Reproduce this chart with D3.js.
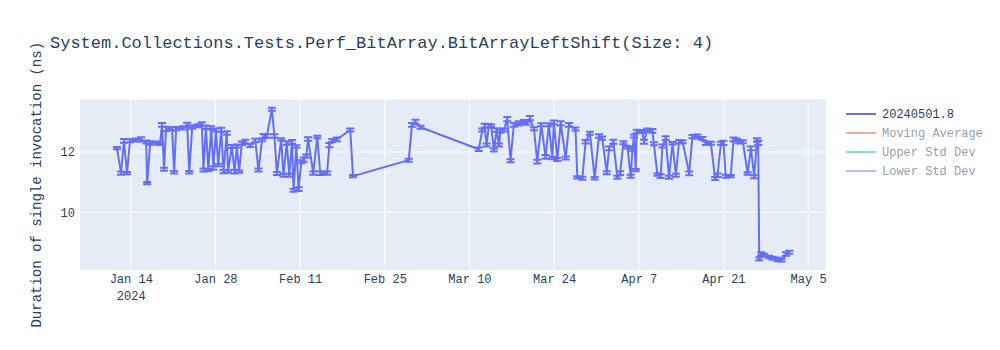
<!DOCTYPE html>
<html>
<head>
<meta charset="utf-8">
<script src="https://cdn.jsdelivr.net/npm/d3@7"></script>
<style>
  body { margin: 0; background: #fff; }
  #chart text { font-family: "Courier New", "Liberation Mono", monospace; fill: #2a3f5f; }
</style>
</head>
<body>
<div id="chart"></div>
<script>
var chartTitle = 'System.Collections.Tests.Perf_BitArray.BitArrayLeftShift(Size: 4)';
var yTitle = 'Duration of single invocation (ns)';

var runDates = [
  '2024-01-11 17:00','2024-01-12 09:30','2024-01-12 21:00','2024-01-13 09:00','2024-01-13 21:00','2024-01-14 21:00',
  '2024-01-15 17:00','2024-01-16 13:00','2024-01-16 17:00','2024-01-17 05:00','2024-01-18 05:00','2024-01-18 20:00',
  '2024-01-19 04:00','2024-01-19 12:00','2024-01-19 20:00','2024-01-20 20:00','2024-01-21 04:00','2024-01-21 12:00',
  '2024-01-22 16:00','2024-01-23 08:00','2024-01-23 16:00','2024-01-24 04:00','2024-01-25 03:00','2024-01-25 18:00',
  '2024-01-26 00:30','2024-01-26 10:00','2024-01-26 20:00','2024-01-27 07:00','2024-01-27 16:00','2024-01-28 02:00',
  '2024-01-28 11:00','2024-01-28 23:00','2024-01-29 08:00','2024-01-29 21:00','2024-01-30 02:00','2024-01-30 17:00',
  '2024-01-31 04:00','2024-01-31 13:00','2024-01-31 22:00','2024-02-01 09:00','2024-02-01 22:00','2024-02-02 18:00',
  '2024-02-03 14:00','2024-02-04 03:00','2024-02-04 17:00','2024-02-04 23:00','2024-02-05 12:00','2024-02-06 08:00',
  '2024-02-06 18:00','2024-02-07 04:00','2024-02-07 21:00','2024-02-08 06:00','2024-02-08 19:00','2024-02-09 05:00',
  '2024-02-09 16:00','2024-02-09 22:00','2024-02-10 09:00','2024-02-10 18:00','2024-02-11 05:00','2024-02-11 14:00',
  '2024-02-12 00:30','2024-02-12 08:00','2024-02-13 04:00','2024-02-13 20:00','2024-02-14 08:00','2024-02-15 11:00',
  '2024-02-15 20:00','2024-02-16 07:00','2024-02-17 02:00','2024-02-19 07:00','2024-02-19 18:00','2024-02-28 23:00',
  '2024-02-29 12:00','2024-03-01 02:00','2024-03-01 22:00','2024-03-11 13:00','2024-03-12 03:00','2024-03-12 12:00',
  '2024-03-12 20:00','2024-03-13 05:00','2024-03-13 14:00','2024-03-14 01:00','2024-03-14 12:00','2024-03-14 21:00',
  '2024-03-15 03:00','2024-03-15 17:00','2024-03-16 06:00','2024-03-16 19:00','2024-03-17 08:00','2024-03-18 04:00',
  '2024-03-19 00:00','2024-03-19 11:00','2024-03-20 00:00','2024-03-20 16:00','2024-03-21 05:00','2024-03-21 21:00',
  '2024-03-22 14:00','2024-03-23 03:00','2024-03-23 17:00','2024-03-23 23:00','2024-03-24 13:00','2024-03-25 02:00',
  '2024-03-25 22:00','2024-03-26 11:00','2024-03-27 13:00','2024-03-27 20:00','2024-03-28 16:00','2024-03-29 05:00',
  '2024-03-29 22:00','2024-03-30 17:00','2024-03-31 10:00','2024-03-31 23:00','2024-04-01 17:00','2024-04-02 02:00',
  '2024-04-02 19:00','2024-04-03 11:00','2024-04-03 22:00','2024-04-04 11:00','2024-04-05 03:00','2024-04-05 16:00',
  '2024-04-05 23:00','2024-04-06 05:00','2024-04-06 12:00','2024-04-06 16:00','2024-04-07 14:00','2024-04-07 21:00',
  '2024-04-08 10:00','2024-04-09 06:00','2024-04-09 12:00','2024-04-10 02:00','2024-04-10 15:00','2024-04-10 22:00',
  '2024-04-11 11:00','2024-04-12 00:00','2024-04-12 14:00','2024-04-13 03:00','2024-04-13 16:00','2024-04-14 06:00',
  '2024-04-15 08:00','2024-04-15 21:00','2024-04-16 17:00','2024-04-17 13:00','2024-04-18 02:00','2024-04-18 22:00',
  '2024-04-19 15:00','2024-04-20 00:30','2024-04-20 14:00','2024-04-21 00:00','2024-04-21 09:00','2024-04-22 05:00',
  '2024-04-22 16:00','2024-04-23 05:00','2024-04-23 14:00','2024-04-24 05:00','2024-04-25 00:00','2024-04-25 13:00',
  '2024-04-26 02:00','2024-04-26 13:00','2024-04-26 18:00','2024-04-26 22:00','2024-04-27 05:00','2024-04-27 18:00',
  '2024-04-28 13:00','2024-04-29 03:00','2024-04-29 23:00','2024-04-30 15:00','2024-05-01 08:00','2024-05-01 21:00'
];

var durations = [
  12.13, 11.30, 12.37, 11.30, 12.37, 12.40, 12.42, 12.33, 10.97, 12.30, 12.30, 12.27,
  12.90, 11.43, 12.77, 12.77, 11.33, 12.77, 12.80, 12.90, 11.33, 12.83, 12.87, 12.93,
  11.40, 12.82, 11.40, 12.80, 11.47, 12.73, 11.57, 12.73, 11.35, 12.63, 11.35, 12.18,
  11.35, 12.20, 11.35, 12.29, 12.34, 12.22, 12.38, 11.40, 12.40, 12.53, 12.53, 13.42,
  12.53, 11.29, 12.42, 11.23, 12.30, 11.23, 12.34, 10.73, 12.18, 10.77, 11.68, 11.75,
  11.87, 12.43, 11.30, 12.50, 11.30, 11.30, 12.23, 12.38, 12.42, 12.73, 11.20, 11.73,
  12.90, 13.00, 12.82, 12.09, 12.73, 12.87, 12.23, 12.87, 12.87, 12.07, 12.73, 12.23,
  12.70, 12.73, 13.09, 11.71, 12.90, 12.95, 13.00, 12.95, 13.12, 12.77, 11.68, 12.90,
  11.84, 12.90, 11.80, 12.98, 11.75, 12.95, 11.80, 12.90, 12.76, 11.16, 11.13, 12.34,
  12.62, 11.13, 12.53, 12.46, 11.31, 12.12, 12.34, 11.16, 11.30, 12.31, 12.16, 11.20,
  12.10, 12.53, 11.40, 12.68, 12.68, 12.34, 12.73, 12.70, 12.27, 11.25, 11.20, 12.20,
  12.46, 11.16, 12.29, 11.23, 12.34, 12.34, 11.29, 12.51, 12.51, 12.45, 12.29, 12.29,
  11.12, 11.23, 12.29, 12.30, 11.20, 11.20, 12.42, 12.40, 12.34, 12.34, 11.29, 12.12,
  11.18, 12.40, 12.30, 8.46, 8.62, 8.58, 8.52, 8.48, 8.44, 8.42, 8.62, 8.68
];

var stdErrors = [
  0.04, 0.05, 0.06, 0.04, 0.05, 0.05, 0.07, 0.05, 0.04, 0.06, 0.05, 0.04,
  0.06, 0.05, 0.07, 0.05, 0.04, 0.06, 0.05, 0.07, 0.04, 0.06, 0.05, 0.06,
  0.05, 0.06, 0.04, 0.05, 0.06, 0.05, 0.04, 0.07, 0.05, 0.06, 0.04, 0.05,
  0.06, 0.05, 0.04, 0.06, 0.07, 0.05, 0.06, 0.05, 0.04, 0.07, 0.06, 0.05,
  0.06, 0.05, 0.04, 0.05, 0.06, 0.05, 0.06, 0.05, 0.04, 0.06, 0.05, 0.07,
  0.05, 0.06, 0.05, 0.04, 0.06, 0.05, 0.07, 0.05, 0.06, 0.05, 0.04, 0.05,
  0.06, 0.07, 0.05, 0.06, 0.05, 0.07, 0.05, 0.06, 0.04, 0.05, 0.06, 0.05,
  0.06, 0.05, 0.07, 0.05, 0.06, 0.07, 0.06, 0.05, 0.07, 0.05, 0.06, 0.05,
  0.06, 0.05, 0.04, 0.06, 0.05, 0.07, 0.05, 0.06, 0.05, 0.04, 0.05, 0.06,
  0.05, 0.04, 0.06, 0.05, 0.05, 0.06, 0.07, 0.05, 0.06, 0.05, 0.04, 0.05,
  0.06, 0.05, 0.04, 0.06, 0.05, 0.07, 0.05, 0.06, 0.05, 0.04, 0.06, 0.05,
  0.06, 0.05, 0.04, 0.05, 0.06, 0.05, 0.06, 0.05, 0.07, 0.05, 0.06, 0.05,
  0.05, 0.06, 0.05, 0.07, 0.05, 0.04, 0.06, 0.05, 0.06, 0.05, 0.04, 0.06,
  0.05, 0.06, 0.07, 0.05, 0.06, 0.05, 0.04, 0.05, 0.06, 0.05, 0.06, 0.05
];

var xTickDates = ['2024-01-14','2024-01-28','2024-02-11','2024-02-25','2024-03-10','2024-03-24','2024-04-07','2024-04-21','2024-05-05'];
var yTickValues = [10, 12];
var xDomain = ['2024-01-05 14:30', '2024-05-07 23:00'];
var yDomain = [8.09, 13.74];

var legendNames = ['20240501.8', 'Moving Average', 'Upper Std Dev', 'Lower Std Dev'];
var legendColors = ['#636efa', '#EF553B', '#00cc96', '#ab63fa'];
var legendVisible = [true, false, false, false];

var width = 1000,
    height = 350,
    margin = {top: 99.5, right: 174, bottom: 80, left: 80},
    plotW = width - margin.left - margin.right,
    plotH = height - margin.top - margin.bottom
;

var parseTime = d3.timeParse('%Y-%m-%d %H:%M'),
    parseDay = d3.timeParse('%Y-%m-%d');

var points = runDates.map(function (d, i) {
  return {date: parseTime(d), value: durations[i], err: stdErrors[i]};
});

var x = d3.scaleTime()
  .domain(xDomain.map(parseTime))
  .range([0, plotW]);
var y = d3.scaleLinear()
  .domain(yDomain)
  .range([plotH, 0]);

var svg = d3.select('#chart')
  .append('svg')
    .attr('width', width)
    .attr('height', height);

svg.append('text')
  .attr('x', 50)
  .attr('y', 48)
  .style('font-size', '17px')
  .text(chartTitle);

var plot = svg.append('g')
  .attr('transform', 'translate(' + margin.left + ',' + margin.top + ')');

plot.append('rect')
  .attr('width', plotW)
  .attr('height', plotH)
  .attr('fill', '#e5ecf6');

// grid
var xTicks = xTickDates.map(parseDay);
plot.selectAll('line.xgrid').data(xTicks).enter()
  .append('line')
    .attr('x1', function (d) { return x(d); })
    .attr('x2', function (d) { return x(d); })
    .attr('y1', 0)
    .attr('y2', plotH)
    .attr('stroke', '#fff')
    .attr('stroke-width', 1);
plot.selectAll('line.ygrid').data(yTickValues).enter()
  .append('line')
    .attr('x1', 0)
    .attr('x2', plotW)
    .attr('y1', function (d) { return y(d); })
    .attr('y2', function (d) { return y(d); })
    .attr('stroke', '#fff')
    .attr('stroke-width', 1);

// axes, labels only
var fmtDay = d3.timeFormat('%b %-d');
var xAxis = plot.append('g')
  .attr('transform', 'translate(0,' + plotH + ')')
  .call(d3.axisBottom(x).tickValues(xTicks).tickSize(0).tickPadding(4).tickFormat(fmtDay));
xAxis.select('.domain').remove();
xAxis.selectAll('text').style('font-size', '12px');
xAxis.selectAll('.tick').filter(function (d, i) { return i === 0; })
  .append('text')
    .attr('y', 21)
    .attr('dy', '0.71em')
    .attr('text-anchor', 'middle')
    .style('font-size', '12px')
    .text(d3.timeFormat('%Y')(xTicks[0]));

var yAxis = plot.append('g')
  .call(d3.axisLeft(y).tickValues(yTickValues).tickSize(0).tickPadding(5).tickFormat(d3.format('d')));
yAxis.select('.domain').remove();
yAxis.selectAll('text').style('font-size', '12px');

svg.append('text')
  .attr('transform', 'translate(41,' + (margin.top + plotH / 2) + ') rotate(-90)')
  .attr('text-anchor', 'middle')
  .style('font-size', '14px')
  .text(yTitle);

// series
var clip = svg.append('defs').append('clipPath').attr('id', 'plotclip');
clip.append('rect').attr('width', plotW).attr('height', plotH);

var series = plot.append('g').attr('clip-path', 'url(#plotclip)');
var bars = series.selectAll('g.err').data(points).enter()
  .append('g')
  .classed('err', true)
  .attr('stroke', '#636efa')
  .attr('stroke-width', 2);
bars.append('line')
  .attr('x1', function (d) { return x(d.date); })
  .attr('x2', function (d) { return x(d.date); })
  .attr('y1', function (d) { return y(d.value - d.err); })
  .attr('y2', function (d) { return y(d.value + d.err); });
bars.append('line')
  .attr('x1', function (d) { return x(d.date) - 4; })
  .attr('x2', function (d) { return x(d.date) + 4; })
  .attr('y1', function (d) { return y(d.value + d.err); })
  .attr('y2', function (d) { return y(d.value + d.err); });
bars.append('line')
  .attr('x1', function (d) { return x(d.date) - 4; })
  .attr('x2', function (d) { return x(d.date) + 4; })
  .attr('y1', function (d) { return y(d.value - d.err); })
  .attr('y2', function (d) { return y(d.value - d.err); });

var line = d3.line()
  .x(function (d) { return x(d.date); })
  .y(function (d) { return y(d.value); });
series.append('path')
  .datum(points)
  .attr('d', line)
  .attr('fill', 'none')
  .attr('stroke', '#636efa')
  .attr('stroke-width', 2)
  .attr('stroke-linejoin', 'round');

// legend
var legend = svg.append('g')
  .attr('transform', 'translate(846,114)');
var items = legend.selectAll('g.item').data(legendNames).enter()
  .append('g')
  .classed('item', true)
  .attr('transform', function (d, i) { return 'translate(0,' + (i * 19) + ')'; })
  .attr('opacity', function (d, i) { return legendVisible[i] ? 1 : 0.5; });
items.append('line')
  .attr('x1', 0)
  .attr('x2', 30)
  .attr('stroke', function (d, i) { return legendColors[i]; })
  .attr('stroke-width', 2);
items.append('text')
  .attr('x', 36)
  .attr('dy', '0.35em')
  .style('font-size', '12px')
  .text(function (d) { return d; });
</script>
</body>
</html>
